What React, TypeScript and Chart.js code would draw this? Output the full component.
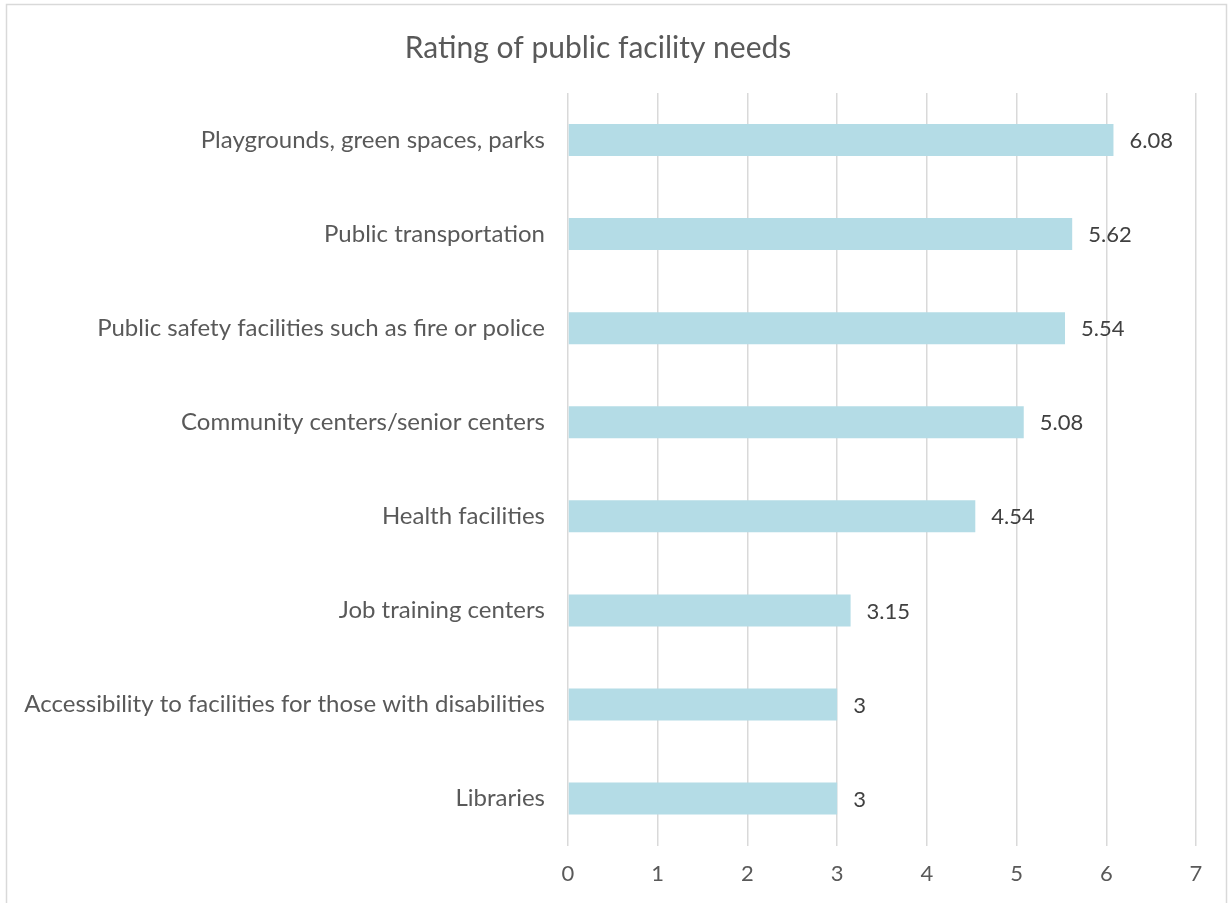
import React, { useEffect, useRef } from "react";
import { Chart, registerables } from "chart.js";

Chart.register(...registerables);

const TITLE = "Rating of public facility needs";
const CATEGORIES = [
  "Playgrounds, green spaces, parks",
  "Public transportation",
  "Public safety facilities such as fire or police",
  "Community centers/senior centers",
  "Health facilities",
  "Job training centers",
  "Accessibility to facilities for those with disabilities",
  "Libraries",
];
const VALUES = [6.08, 5.62, 5.54, 5.08, 4.54, 3.15, 3, 3];
const X_MIN = 0;
const X_MAX = 7;
const X_STEP = 1;

const FONT = "Lato, 'Open Sans', sans-serif";
const TEXT_COLOR = "#595959";
const BAR_COLOR = "#b4dce6";

const frameAndLabels = {
  id: "frameAndLabels",
  beforeDraw(chart: any) {
    const ctx = chart.ctx;
    ctx.save();
    ctx.fillStyle = "#ffffff";
    ctx.fillRect(0, 0, chart.width, chart.height);
    ctx.strokeStyle = "#d9d9d9";
    ctx.lineWidth = 1.5;
    ctx.strokeRect(6.5, 4.5, chart.width - 11, chart.height + 10);
    ctx.restore();
  },
  afterDatasetsDraw(chart: any) {
    const ctx = chart.ctx;
    const meta = chart.getDatasetMeta(0);
    const data = chart.data.datasets[0].data;
    ctx.save();
    ctx.fillStyle = "#404040";
    ctx.font = `22px ${FONT}`;
    ctx.textAlign = "left";
    ctx.textBaseline = "middle";
    meta.data.forEach((el: any, i: number) => {
      ctx.fillText(String(data[i]), el.x + 16, el.y + 1);
    });
    ctx.restore();
  },
};

export default function App() {
  const ref = useRef<HTMLCanvasElement | null>(null);
  useEffect(() => {
    if (!ref.current) return;
    const chart = new Chart(ref.current, {
      type: "bar",
      data: {
        labels: CATEGORIES,
        datasets: [
          {
            data: VALUES,
            backgroundColor: BAR_COLOR,
            borderWidth: 0,
            categoryPercentage: 1,
            barPercentage: 0.34,
          },
        ],
      },
      options: {
        indexAxis: "y",
        animation: false,
        responsive: false,
        maintainAspectRatio: false,
        layout: { padding: { left: 0, right: 35, top: 0, bottom: 1 } },
        plugins: {
          legend: { display: false },
          tooltip: { enabled: false },
          title: {
            display: true,
            text: TITLE,
            color: TEXT_COLOR,
            font: { family: FONT, size: 30, weight: "normal" },
            padding: { top: 30, bottom: 27 },
          },
        },
        scales: {
          x: {
            min: X_MIN,
            max: X_MAX,
            ticks: {
              stepSize: X_STEP,
              color: TEXT_COLOR,
              font: { family: FONT, size: 22 },
              padding: 15,
            },
            grid: { color: "#d9d9d9", lineWidth: 1.5, drawTicks: false },
            border: { display: false },
          },
          y: {
            ticks: {
              color: TEXT_COLOR,
              font: { family: FONT, size: 24 },
              padding: 23,
              autoSkip: false,
            },
            grid: { display: false, drawTicks: false },
            border: { display: false },
            afterFit(scale: any) {
              scale.width = 568;
            },
          },
        },
      },
      plugins: [frameAndLabels],
    });
    return () => chart.destroy();
  }, []);
  return (
    <div style={{ position: "fixed", left: 0, top: 0, width: 1231, height: 903, background: "#fff" }}>
      <canvas ref={ref} width={1231} height={903} style={{ display: "block" }} />
    </div>
  );
}
